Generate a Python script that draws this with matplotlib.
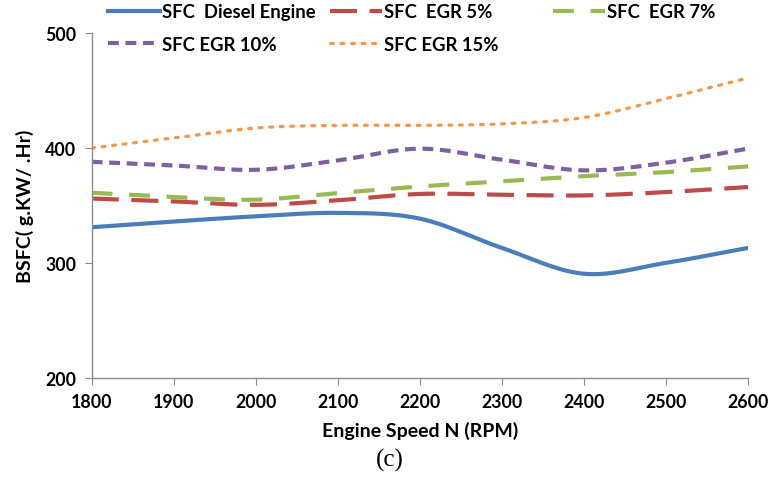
import numpy as np
import matplotlib
matplotlib.use("Agg")
import matplotlib.pyplot as plt

rpm = [1800, 1900, 2000, 2100, 2200, 2300, 2400, 2500, 2600]
sfc_diesel = [331, 336, 340.5, 343.5, 338.5, 313, 290.5, 300, 313]
sfc_egr5 = [356, 353.5, 350.5, 354.5, 360, 359.3, 358.7, 361.6, 366]
sfc_egr7 = [361, 357.3, 355, 360.8, 366.5, 371, 375.5, 379, 384]
sfc_egr10 = [388, 384.8, 381, 389.2, 399.4, 389.8, 380.5, 387.2, 399.5]
sfc_egr15 = [400, 408.7, 417.4, 419.7, 419.7, 421, 426.5, 443, 461]

labels = ["SFC  Diesel Engine", "SFC  EGR 5%", "SFC  EGR 7%", "SFC EGR 10%", "SFC EGR 15%"]
xticks = [1800, 1900, 2000, 2100, 2200, 2300, 2400, 2500, 2600]
yticks = [200, 300, 400, 500]


def smooth(x, y, n=30):
    x = np.asarray(x, float)
    y = np.asarray(y, float)
    px = np.concatenate([[2 * x[0] - x[1]], x, [2 * x[-1] - x[-2]]])
    py = np.concatenate([[2 * y[0] - y[1]], y, [2 * y[-1] - y[-2]]])
    xs, ys = [], []
    t = np.linspace(0, 1, n, endpoint=False)
    for i in range(1, len(px) - 2):
        for arr, out in ((px, xs), (py, ys)):
            p0, p1, p2, p3 = arr[i - 1], arr[i], arr[i + 1], arr[i + 2]
            out.extend(0.5 * ((2 * p1) + (-p0 + p2) * t
                              + (2 * p0 - 5 * p1 + 4 * p2 - p3) * t ** 2
                              + (-p0 + 3 * p1 - 3 * p2 + p3) * t ** 3))
    xs.append(x[-1])
    ys.append(y[-1])
    return np.array(xs), np.array(ys)


plt.rcParams['font.family'] = ['Lato', 'DejaVu Sans']
fig = plt.figure(figsize=(7.68, 4.81), dpi=100)
ax = fig.add_axes([0.1194, 0.2127, 0.8546, 0.7163])

styles = [
    dict(color='#4A7EBB', lw=3.0, ls='-'),
    dict(color='#BE4B48', lw=3.0, ls=(0, (6.5, 3))),
    dict(color='#98B954', lw=3.0, ls=(0, (5, 4))),
    dict(color='#7D60A0', lw=3.0, ls=(0, (2.6, 1.6))),
    dict(color='#F79646', lw=2.3, ls=(0, (0.9, 2.4)), dash_capstyle='round'),
]
series = [sfc_diesel, sfc_egr5, sfc_egr7, sfc_egr10, sfc_egr15]
handles = []
for s, st, lab in zip(series, styles, labels):
    xs, ys = smooth(rpm, s)
    line, = ax.plot(xs, ys, label=lab, **st)
    handles.append(line)

ax.set_xlim(1800, 2600)
ax.set_ylim(200, 500)
ax.set_xticks(xticks)
ax.set_yticks(yticks)
for sp in ['top', 'right']:
    ax.spines[sp].set_visible(False)
for sp in ['left', 'bottom']:
    ax.spines[sp].set_color('#8C8C8C')
    ax.spines[sp].set_linewidth(1.0)
ax.tick_params(axis='both', direction='out', length=5, color='#8C8C8C',
               labelsize=12.8, pad=6)
for lbl in ax.get_xticklabels() + ax.get_yticklabels():
    lbl.set_fontweight('bold')
ax.set_xlabel('Engine Speed N (RPM)', fontsize=14, fontweight='bold', labelpad=8)
ax.set_ylabel('BSFC( g.KW/ .Hr)', fontsize=14, fontweight='bold', labelpad=8)

fig.text(0.507, 0.03, '(c)', fontsize=18, family='Liberation Serif', ha='center', va='baseline')

legkw = dict(frameon=False, handlelength=2.8, handletextpad=0.15, labelspacing=0.85,
             borderpad=0, borderaxespad=0, loc='upper left',
             prop=dict(weight='bold', size=13.3))
W, H = 768.0, 481.0
fig.legend([handles[0], handles[3]], [labels[0], labels[3]],
           bbox_to_anchor=(108 / W, 1 - 4 / H), **legkw)
fig.legend([handles[1], handles[4]], [labels[1], labels[4]],
           bbox_to_anchor=(330 / W, 1 - 4 / H), **legkw)
fig.legend([handles[2]], [labels[2]],
           bbox_to_anchor=(553 / W, 1 - 4 / H), **legkw)

fig.savefig('out.png', dpi=100)
